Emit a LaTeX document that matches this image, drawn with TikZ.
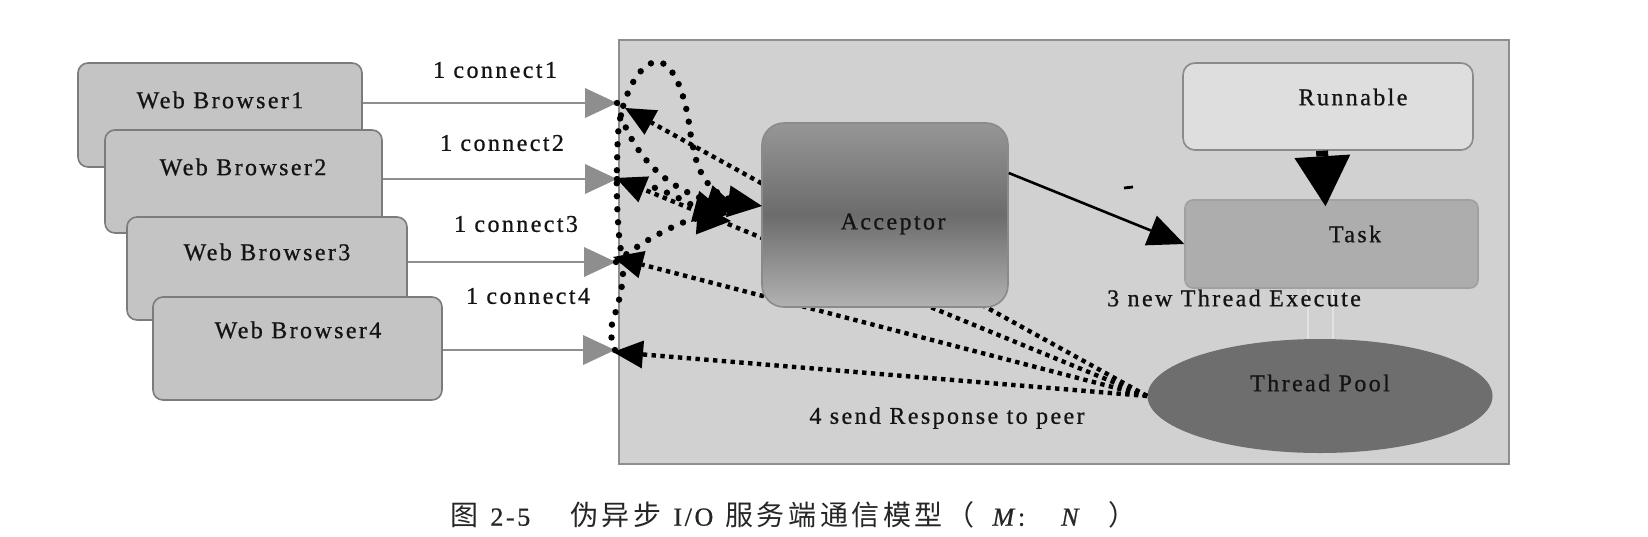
\documentclass[tikz,border=0pt]{standalone}
\usepackage{fontspec}
\setmainfont{Liberation Serif}[LetterSpace=10,FakeBold=0.8]
\newfontfamily\cjk{Noto Sans CJK SC}
\newcommand{\cs}{\hspace{1.8pt}}
\usetikzlibrary{arrows.meta,shapes.geometric,calc}
\definecolor{panelfill}{HTML}{D1D1D1}
\definecolor{paneldraw}{HTML}{8E8E8E}
\definecolor{browserfill}{HTML}{C4C4C4}
\definecolor{browserdraw}{HTML}{7C7C7C}
\definecolor{gline}{HTML}{8E8E8E}
\definecolor{accdraw}{HTML}{8A8A8A}
\definecolor{acctop}{HTML}{969696}
\definecolor{accmid}{HTML}{6C6C6C}
\definecolor{accbot}{HTML}{B2B2B2}
\definecolor{runfill}{HTML}{DEDEDE}
\definecolor{rundraw}{HTML}{8A8A8A}
\definecolor{taskfill}{HTML}{ADADAD}
\definecolor{taskdraw}{HTML}{A0A0A0}
\definecolor{poolfill}{HTML}{6E6E6E}
\definecolor{faintline}{HTML}{E2E2E2}
\begin{document}
\begin{tikzpicture}[x=0.5pt,y=-0.5pt,
  every node/.style={font=\fontsize{12pt}{14pt}\selectfont},
  box/.style={draw=browserdraw, fill=browserfill, rounded corners=5pt, line width=0.8pt, inner sep=0pt},
  lbl/.style={inner sep=0pt, text=black!92},
  gconn/.style={draw=gline, line width=1pt, -{Triangle[length=16pt,width=15pt,line width=0pt]}},
  req/.style={line width=3.2pt, line cap=round, dash pattern=on 0pt off 6.5pt, -{Triangle[length=17pt,width=16pt,line width=0pt]}},
  resp/.style={line width=2.2pt, dash pattern=on 2.2pt off 2.2pt, -{Triangle[length=15pt,width=14pt,line width=0pt]}},
  solidarrow/.style={line width=1.3pt, -{Triangle[length=18pt,width=16pt,line width=0pt]}},
  faint/.style={draw=faintline, line width=1.3pt}]
\fill[white] (0,0) rectangle (1648,536);
\useasboundingbox (0,0) rectangle (1648,536);

% panel
\node[draw=paneldraw, fill=panelfill, line width=1pt, minimum width=445pt, minimum height=212pt, inner sep=0pt] (panel) at (1064,252) {};

% browsers
\node[box, minimum width=142pt, minimum height=52pt] (b1) at (220,115) {};
\node[lbl] (t1) at (220,100) {Web Browser1};
\node[box, minimum width=138.5pt, minimum height=51.5pt] (b2) at (243.5,181.5) {};
\node[lbl] (t2) at (243,167) {Web Browser2};
\node[box, minimum width=140pt, minimum height=51.5pt] (b3) at (267,268.5) {};
\node[lbl] (t3) at (267,252) {Web Browser3};
\node[box, minimum width=144.5pt, minimum height=51.5pt] (b4) at (297.5,348.5) {};
\node[lbl] (t4) at (298,330) {Web Browser4};

% connect labels
\node[lbl] (c1) at (495,70) {1 connect1};
\node[lbl] (c2) at (502,143) {1 connect2};
\node[lbl] (c3) at (516,224) {1 connect3};
\node[lbl] (c4) at (528,296) {1 connect4};

% tips
\coordinate (p1) at (617,103);
\coordinate (p2) at (617,179);
\coordinate (p3) at (616,262);
\coordinate (p4) at (615,350);
\coordinate (q1) at (625,108);
\coordinate (q2) at (616,178);
\coordinate (q3) at (613,257);
\coordinate (q4) at (613,352);

\draw[gconn] (b1.east |- p1) -- (p1);
\draw[gconn] (b2.east |- p2) -- (p2);
\draw[gconn] (b3.east |- p3) -- (p3);
\draw[gconn] (b4.east |- p4) -- (p4);

% thread pool
\node[ellipse, fill=poolfill, minimum width=172.5pt, minimum height=57pt, inner sep=0pt] (tp) at (1320,396) {};
\node[lbl] (tpt) at (1320,383) {Thread Pool};

% response lines (behind acceptor)
\draw[resp] (tp.west) -- (q1);
\draw[resp] (tp.west) -- (q2);
\draw[resp] (tp.west) -- (q3);
\draw[resp] (tp.west) -- (q4);

% acceptor
\node[draw=accdraw, line width=0.8pt, rounded corners=11pt, minimum width=123pt, minimum height=92pt, inner sep=0pt,
      top color=acctop, bottom color=accbot, middle color=accmid] (acc) at (885,215) {};
\node[lbl] (acct) at (893,224) {Acceptor};

% request curves
\coordinate (a1) at (740,211);
\coordinate (a2) at (728,215);
\coordinate (a3) at (731,221);
\coordinate (a4) at (762,206);
\draw[req] plot[smooth, tension=0.6] coordinates {(p4) (611,330) (619,300) (623,272) (619,235) (617,200) (617,165) (619,125) (627,95) (640,72) (655,62) (668,67) (679,85) (687,112) (692,142) (699,168) (712,188) (732,200) (a4)};
\draw[req] (p1) .. controls (630,150) and (660,185) .. (a1);
\draw[req] (p2) .. controls (655,182) and (690,205) .. (a2);
\draw[req] (p3) .. controls (650,235) and (690,218) .. (a3);

% right side boxes
\node[draw=rundraw, fill=runfill, line width=0.8pt, rounded corners=6pt, minimum width=145pt, minimum height=43.5pt, inner sep=0pt] (run) at (1328,106.5) {};
\node[lbl] (runt) at (1353,97) {Runnable};
\node[draw=taskdraw, fill=taskfill, line width=0.8pt, rounded corners=4pt, minimum width=146.5pt, minimum height=44pt, inner sep=0pt] (task) at (1331.5,244) {};
\node[lbl] (taskt) at (1355,234) {Task};

\draw[solidarrow] ([yshift=21pt]acc.east) -- (task.west);
\draw[line width=6pt, -{Triangle[length=25pt,width=28pt,line width=0pt]}] ([xshift=-3pt]run.south) -- ([xshift=-3pt,yshift=-3.5pt]task.north);
\draw[line width=1.4pt] (1124,188) -- (1133,187);

\draw[faint] ([xshift=-11.75pt]task.south) -- ([xshift=-11.75pt]task.south |- tp.north);
\draw[faint] ([xshift=0.75pt]task.south) -- ([xshift=0.75pt]task.south |- tp.north);

\node[lbl] (ex) at (1234,298) {3 new Thread Execute};
\node[lbl] (sr) at (947,418) {4 send Response to peer};

% caption
\node[anchor=west, inner sep=0pt, text=black!85, font=\fontsize{13pt}{15pt}\selectfont] (cap) at (450,515)
  {{\cjk\fontsize{14pt}{16pt}\selectfont 图}\hspace{6pt}2-5\hspace{20pt}{\cjk\fontsize{14pt}{16pt}\selectfont 伪\cs 异\cs 步}\hspace{6pt}I/O\hspace{6pt}{\cjk\fontsize{14pt}{16pt}\selectfont 服\cs 务\cs 端\cs 通\cs 信\cs 模\cs 型\cs （}\hspace{9pt}\textit{M}:\hspace{18pt}\textit{N}\hspace{13pt}{\cjk\fontsize{14pt}{16pt}\selectfont ）}};
\end{tikzpicture}
\end{document}
